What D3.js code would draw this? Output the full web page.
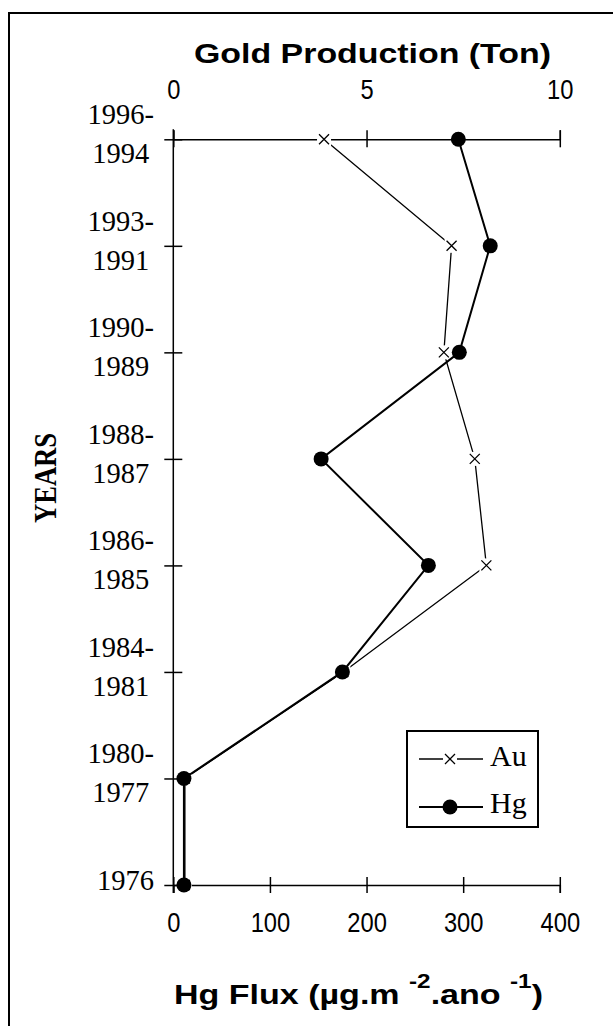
<!DOCTYPE html>
<html>
<head>
<meta charset="utf-8">
<script src="https://cdn.jsdelivr.net/npm/d3@7"></script>
<style>
  body { margin: 0; background: #fff; }
  svg { display: block; }
</style>
</head>
<body>
<svg width="613" height="1026"></svg>
<script>
// periodos (de arriba hacia abajo)
var periods = [["1996-", "1994"], ["1993-", "1991"], ["1990-", "1989"], ["1988-", "1987"],
               ["1986-", "1985"], ["1984-", "1981"], ["1980-", "1977"], ["1976"]];
var keys = periods.map(function(p) { return p.join(" "); });
// produccion de oro (ton) y flujo de Hg
var gold = [3.9, 7.2, 7.0, 7.8, 8.1, 4.4, 0.3, 0.3];
var hgFlux = [295, 328, 296, 153, 264, 175, 11, 11];
var goldTicks = [0, 5, 10];
var hgTicks = [0, 100, 200, 300, 400];

var svg = d3.select("svg");
var serif = "'Liberation Serif', 'Times New Roman', serif",
  sans = "'Liberation Sans', Arial, sans-serif";

var x0 = 173.3, x1 = 559.8, yTop = 139.3, yBot = 885;

var y = d3.scalePoint().domain(keys).range([yTop, yBot]);
var xAu = d3.scaleLinear().domain([0, 10]).range([x0, x1]);
var xHg = d3.scaleLinear().domain([0, 400]).range([x0, x1]);

// marco
svg.append("rect").attr("x", 9).attr("y", 13).attr("width", 800).attr("height", 1100)
  .attr("fill", "none").attr("stroke", "#000").attr("stroke-width", 2);

// numeros de los ejes: fuente estrecha simulada
function tickText(sel) {
  sel.attr("font-family", sans).attr("font-size", 27).attr("fill", "#000")
    .attr("lengthAdjust", "spacingAndGlyphs")
    .attr("textLength", function() { return this.textContent.length * 13.2; });
}

// eje superior (oro)
var gTop = svg.append("g").attr("transform", "translate(0," + yTop + ")")
  .call(d3.axisTop(xAu).tickValues(goldTicks).tickSizeOuter(0).tickSize(9).tickPadding(31));
gTop.selectAll(".tick line").attr("y1", 8).attr("stroke-width", 1.5);
gTop.select(".domain").attr("stroke-width", 1.5);
gTop.selectAll("text").call(tickText);

// eje inferior (Hg)
var gBot = svg.append("g").attr("transform", "translate(0," + yBot + ")")
  .call(d3.axisBottom(xHg).tickValues(hgTicks).tickSizeOuter(0).tickSize(8).tickPadding(20));
gBot.selectAll(".tick line").attr("y1", -8).attr("stroke-width", 1.5);
gBot.select(".domain").attr("stroke-width", 1.5);
gBot.selectAll("text").call(tickText);

// eje de los anos
var gLeft = svg.append("g").attr("transform", "translate(" + x0 + ",0)")
  .call(d3.axisLeft(y).tickSize(9).tickSizeOuter(0).tickFormat(""));
gLeft.selectAll(".tick line").attr("x1", 9).attr("stroke-width", 1.5);
gLeft.select(".domain").attr("d", "M0," + (yTop - 10) + "V" + (yBot + 8)).attr("stroke-width", 1.5);

// etiquetas de los anos: bloque alineado a la derecha, lineas centradas
var labRight = 154;
periods.forEach(function(p, i) {
  var t = svg.append("text").attr("font-family", serif).attr("font-size", 28.5).attr("fill", "#000");
  if (p.length === 1) {
    t.attr("x", labRight).attr("y", y(keys[i]) + 5).attr("text-anchor", "end").text(p[0]);
  } else {
    t.attr("text-anchor", "middle");
    var a = t.append("tspan").text(p[0]);
    var w = a.node().getComputedTextLength();
    var cx = labRight - w / 2;
    a.attr("x", cx).attr("y", y(keys[i]) - 15);
    t.append("tspan").attr("x", cx).attr("y", y(keys[i]) + 24).text(p[1]);
  }
});

// titulos
svg.append("text").attr("x", 194).attr("y", 63).attr("font-family", sans).attr("font-weight", "bold")
  .attr("font-size", 28).attr("textLength", 357).attr("lengthAdjust", "spacingAndGlyphs")
  .text("Gold Production (Ton)");

svg.append("text").attr("transform", "translate(56,478) rotate(-90)").attr("text-anchor", "middle")
  .attr("font-family", serif).attr("font-weight", "bold").attr("font-size", 31)
  .attr("textLength", 90).attr("lengthAdjust", "spacingAndGlyphs").text("YEARS");

var xt = svg.append("text").attr("x", 174).attr("y", 1004).attr("font-family", sans)
  .attr("font-weight", "bold").attr("font-size", 28).attr("textLength", 369)
  .attr("lengthAdjust", "spacingAndGlyphs");
xt.append("tspan").text("Hg Flux (\u00b5g.m ");
xt.append("tspan").attr("font-size", 20).attr("dy", -16).text("-2");
xt.append("tspan").attr("dy", 16).text(".ano ");
xt.append("tspan").attr("font-size", 20).attr("dy", -16).text("-1");
xt.append("tspan").attr("dy", 16).text(")");

// linea de Au
var rows = keys.map(function(k, i) { return { k: k, au: gold[i], hg: hgFlux[i] }; });
svg.append("path").datum(rows).attr("fill", "none").attr("stroke", "#000").attr("stroke-width", 1.3)
  .attr("d", d3.line().x(function(d) { return xAu(d.au); }).y(function(d) { return y(d.k); }));

function cross(g, s) {
  g.append("rect").attr("x", -7).attr("y", -7).attr("width", 14).attr("height", 14).attr("fill", "#fff");
  g.append("path").attr("d", "M" + (-s) + "," + (-s) + "L" + s + "," + s + "M" + (-s) + "," + s + "L" + s + "," + (-s))
    .attr("stroke", "#000").attr("stroke-width", 1.3);
}
rows.forEach(function(d) {
  cross(svg.append("g").attr("transform", "translate(" + xAu(d.au) + "," + y(d.k) + ")"), 5);
});

// linea de Hg
svg.append("path").datum(rows).attr("fill", "none").attr("stroke", "#000").attr("stroke-width", 2)
  .attr("d", d3.line().x(function(d) { return xHg(d.hg); }).y(function(d) { return y(d.k); }));
svg.selectAll("circle.hg").data(rows).enter().append("circle").attr("class", "hg")
  .attr("cx", function(d) { return xHg(d.hg); }).attr("cy", function(d) { return y(d.k); })
  .attr("r", 7.5).attr("fill", "#000");

// leyenda
var lg = svg.append("g");
lg.append("rect").attr("x", 407).attr("y", 731).attr("width", 131).attr("height", 96)
  .attr("fill", "#fff").attr("stroke", "#000").attr("stroke-width", 2);
lg.append("line").attr("x1", 419).attr("x2", 483).attr("y1", 759).attr("y2", 759)
  .attr("stroke", "#000").attr("stroke-width", 1.5);
cross(lg.append("g").attr("transform", "translate(450,759)"), 5);
lg.append("line").attr("x1", 419).attr("x2", 483).attr("y1", 807).attr("y2", 807)
  .attr("stroke", "#000").attr("stroke-width", 2);
lg.append("circle").attr("cx", 450).attr("cy", 807).attr("r", 7.5).attr("fill", "#000");
lg.append("text").attr("x", 490).attr("y", 766).attr("font-family", serif).attr("font-size", 30).text("Au");
lg.append("text").attr("x", 490).attr("y", 813).attr("font-family", serif).attr("font-size", 30).text("Hg");
</script>
</body>
</html>
